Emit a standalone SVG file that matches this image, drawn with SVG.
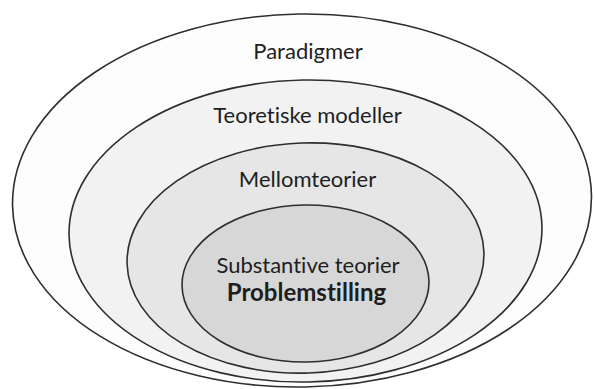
<svg xmlns="http://www.w3.org/2000/svg" width="594" height="389" viewBox="0 0 594 389">
  <style>
    .ring { stroke: #2e2e2e; stroke-width: 1.6; }
    .lbl { font-family: Lato, "Open Sans", "Liberation Sans", sans-serif; font-size: 22px; fill: #1e1e1e; text-anchor: middle; font-variant-ligatures: none; font-feature-settings: "liga" 0; }
    .bold { font-weight: bold; font-size: 24px; }
  </style>
  <rect width="594" height="389" fill="#ffffff"/>
  <g id="paradigmer">
    <ellipse class="ring" cx="302" cy="200.5" rx="289.5" ry="186.5" fill="#fdfdfd" transform="rotate(-1 302 200.5)"/>
    <text class="lbl" x="308" y="59">Paradigmer</text>
  </g>
  <g id="teoretiske-modeller">
    <ellipse class="ring" cx="305.5" cy="231" rx="236.5" ry="151" fill="#f2f2f2" transform="rotate(-1 305.5 231)"/>
    <text class="lbl" x="307.5" y="123">Teoretiske modeller</text>
  </g>
  <g id="mellomteorier">
    <ellipse class="ring" cx="305.5" cy="258" rx="178.5" ry="115" fill="#e6e6e6" transform="rotate(-2 305.5 258)"/>
    <text class="lbl" x="307.5" y="187">Mellomteorier</text>
  </g>
  <g id="substantive-teorier">
    <ellipse class="ring" cx="305.5" cy="283.5" rx="123.5" ry="78.5" fill="#d7d7d7" transform="rotate(-1 305.5 283.5)"/>
    <text class="lbl" x="308" y="273">Substantive teorier</text>
    <text class="lbl bold" x="306.5" y="301">Problemstilling</text>
  </g>
  <g id="connectors"/>
</svg>
